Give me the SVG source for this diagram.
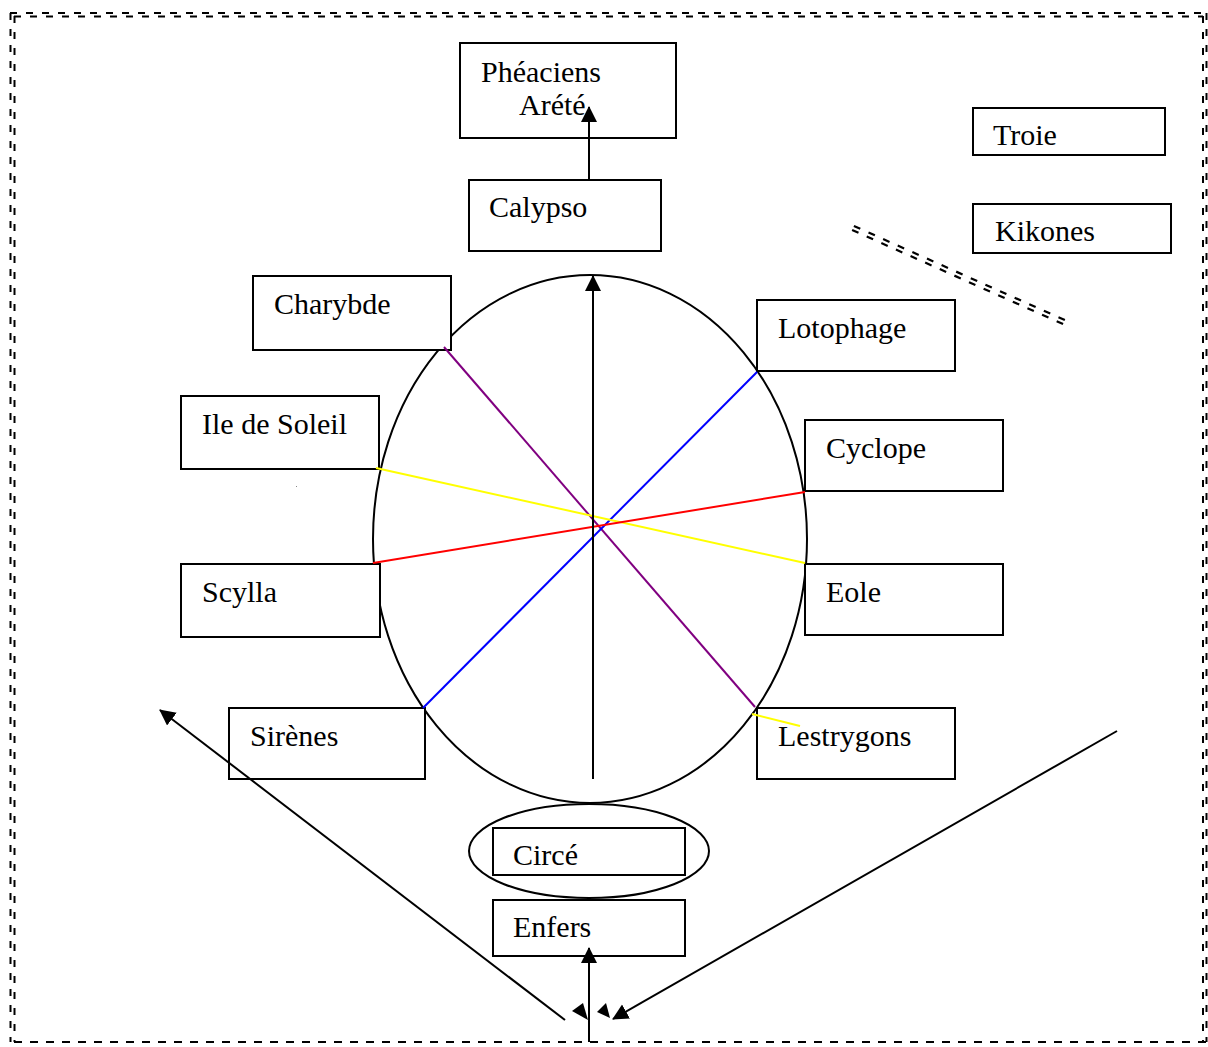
<svg xmlns="http://www.w3.org/2000/svg" width="1208" height="1047" viewBox="0 0 1208 1047">
<style>
.box{fill:#fff;stroke:#000;stroke-width:2}
.t{font-family:"Liberation Serif","Times New Roman",serif;font-size:30px;fill:#000}
.bd{fill:none;stroke:#000;stroke-width:2;stroke-dasharray:7 9}
.ln{fill:none;stroke-width:2}
.dd{stroke:#000;stroke-width:2.2;stroke-dasharray:7 9}
</style>
<defs>
<marker id="ah" markerUnits="userSpaceOnUse" markerWidth="20" markerHeight="20" refX="15" refY="8" orient="auto">
<path d="M0,0 L16,8 L0,16 Z" fill="#000"/>
</marker>
</defs>
<g id="border">
<line class="bd" x1="10" y1="13" x2="1206" y2="13"/>
<line class="bd" x1="14" y1="16.5" x2="1203" y2="16.5"/>
<line class="bd" x1="10.5" y1="13" x2="10.5" y2="1042"/>
<line class="bd" x1="14.5" y1="16" x2="14.5" y2="1042"/>
<line class="bd" x1="1203" y1="16" x2="1203" y2="1042"/>
<line class="bd" x1="1206.5" y1="13" x2="1206.5" y2="1042"/>
<line class="bd" x1="14" y1="1042" x2="1206" y2="1042" style="stroke-dasharray:8 8"/>
</g>
<g id="wheel">
<ellipse cx="590" cy="539" rx="217" ry="264" fill="none" stroke="#000" stroke-width="2"/>
</g>
<g id="pheaciens"><rect class="box" x="460" y="43" width="216" height="95"/><text class="t" x="481" y="82">Phéaciens</text><text class="t" x="519" y="115">Arété</text></g>
<g id="calypso"><rect class="box" x="469" y="180" width="192" height="71"/><text class="t" x="489" y="217">Calypso</text></g>
<g id="troie"><rect class="box" x="973" y="108" width="192" height="47"/><text class="t" x="993" y="145">Troie</text></g>
<g id="kikones"><rect class="box" x="973" y="204" width="198" height="49"/><text class="t" x="995" y="241">Kikones</text></g>
<g id="charybde"><rect class="box" x="253" y="276" width="198" height="74"/><text class="t" x="274" y="314">Charybde</text></g>
<g id="lotophage"><rect class="box" x="757" y="300" width="198" height="71"/><text class="t" x="778" y="338">Lotophage</text></g>
<g id="soleil"><rect class="box" x="181" y="396" width="198" height="73"/><text class="t" x="202" y="434">Ile de Soleil</text></g>
<g id="cyclope"><rect class="box" x="805" y="420" width="198" height="71"/><text class="t" x="826" y="458">Cyclope</text></g>
<g id="scylla"><rect class="box" x="181" y="564" width="199" height="73"/><text class="t" x="202" y="602">Scylla</text></g>
<g id="eole"><rect class="box" x="805" y="564" width="198" height="71"/><text class="t" x="826" y="602">Eole</text></g>
<g id="sirenes"><rect class="box" x="229" y="708" width="196" height="71"/><text class="t" x="250" y="746">Sirènes</text></g>
<g id="lestrygons"><rect class="box" x="757" y="708" width="198" height="71"/><text class="t" x="778" y="746">Lestrygons</text></g>
<g id="circe"><ellipse cx="589" cy="851" rx="120" ry="47" fill="#fff" stroke="#000" stroke-width="2"/><rect class="box" x="493" y="828" width="192" height="47"/><text class="t" x="513" y="865">Circé</text></g>
<g id="enfers"><rect class="box" x="493" y="900" width="192" height="56"/><text class="t" x="513" y="937">Enfers</text></g>
<g id="connectors">
<line class="ln" stroke="#800080" x1="444" y1="347" x2="755" y2="707"/>
<line class="ln" stroke="#0000ff" x1="757" y1="372" x2="423" y2="708"/>
<line class="ln" stroke="#ffff00" x1="376" y1="468" x2="805" y2="563"/>
<line class="ln" stroke="#ffff00" x1="752" y1="714" x2="800" y2="726"/>
<line class="ln" stroke="#ff0000" x1="373" y1="563" x2="805" y2="492"/>
<line class="ln" stroke="#000" x1="593" y1="779" x2="593" y2="276" marker-end="url(#ah)"/>
<line class="ln" stroke="#000" x1="589" y1="180" x2="589" y2="107" marker-end="url(#ah)"/>
<line class="ln" stroke="#000" x1="589" y1="1042" x2="589" y2="948" marker-end="url(#ah)"/>
<line class="ln" stroke="#000" x1="565" y1="1020" x2="160" y2="710" marker-end="url(#ah)"/>
<line class="ln" stroke="#000" x1="1117" y1="731" x2="613" y2="1019" marker-end="url(#ah)"/>
<polygon points="583,1003 572,1011 588,1020" fill="#000"/>
<polygon points="606,1003 597,1012 610,1018" fill="#000"/>
<line class="dd" x1="853.9" y1="226" x2="1066.9" y2="321"/>
<line class="dd" x1="852.1" y1="230" x2="1065.1" y2="325"/>
<rect x="296" y="486" width="1" height="1" fill="#888"/>
</g>
</svg>
